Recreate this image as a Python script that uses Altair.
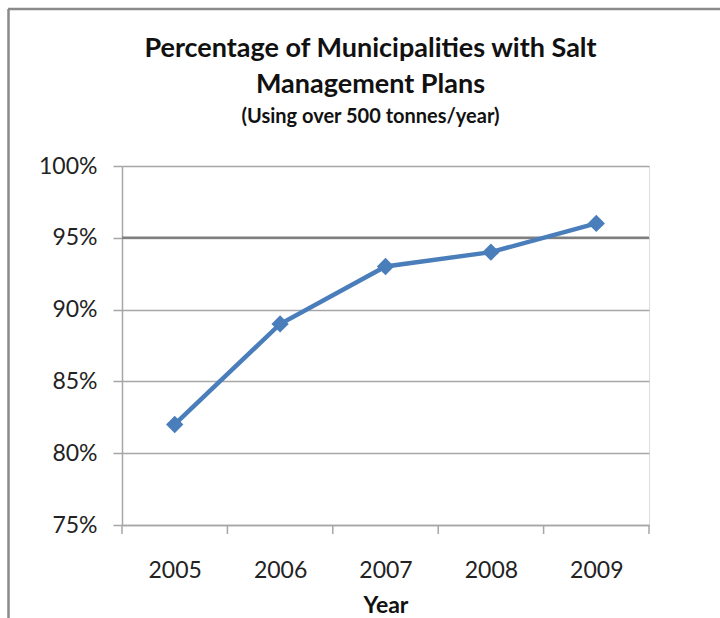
import altair as alt
import pandas as pd

# Share of municipalities (using over 500 tonnes of salt per year) with a plan
years = [2005, 2006, 2007, 2008, 2009]
share = [0.82, 0.89, 0.93, 0.94, 0.96]

# Category boundaries for the x-axis tick marks
tick_edges = [2004.5, 2005.5, 2006.5, 2007.5, 2008.5, 2009.5]

df = pd.DataFrame({"Year": years, "Share": share})
edges = pd.DataFrame({"edge": tick_edges})
ref = pd.DataFrame({"level": [0.95]})

W, H = 527, 359
FONT = "Lato"
BLUE = "#4a7ebb"
GRID = "#a6a6a6"

x_scale = alt.Scale(domain=[2004.5, 2009.5], nice=False, zero=False)
y_scale = alt.Scale(domain=[0.75, 1.0], nice=False, zero=False)

x_axis = alt.Axis(
    title="Year", values=years, format="d", ticks=False, grid=False,
    domainColor=GRID, domainWidth=1.5, labelFont=FONT, labelFontSize=23,
    labelColor="#222", labelPadding=34, titleFont=FONT, titleFontSize=23,
    titleFontWeight="bold", titleColor="#111", titlePadding=12,
)
y_axis = alt.Axis(
    title=None, values=[0.75, 0.80, 0.85, 0.90, 0.95, 1.0], format=".0%",
    tickSize=9, tickColor=GRID, tickWidth=1.5, domainColor=GRID, domainWidth=1.5,
    gridColor=GRID, gridWidth=1.5, labelFont=FONT, labelFontSize=23,
    labelColor="#222", labelPadding=16,
)

base = alt.Chart(df)

line = base.mark_line(color=BLUE, strokeWidth=4.5).encode(
    x=alt.X("Year:Q", scale=x_scale, axis=x_axis),
    y=alt.Y("Share:Q", scale=y_scale, axis=y_axis),
)
points = base.mark_point(shape="diamond", filled=True, size=300, color=BLUE, opacity=1).encode(
    x=alt.X("Year:Q", scale=x_scale),
    y=alt.Y("Share:Q", scale=y_scale),
)

# Heavier reference line at 95%
ref_line = alt.Chart(ref).mark_rule(color="#7f7f7f", strokeWidth=2.5).encode(
    y=alt.Y("level:Q", scale=y_scale),
)

# Tick marks between year categories
ticks = alt.Chart(edges).mark_rule(color=GRID, strokeWidth=1.5).encode(
    x=alt.X("edge:Q", scale=x_scale),
    y=alt.value(H),
    y2=alt.value(H + 9),
)

# Chart-area frame (top and left edges)
frame_top = alt.Chart(ref).mark_rule(color="#8a8a8a", strokeWidth=2.5).encode(
    x=alt.value(-114), x2=alt.value(620), y=alt.value(-157),
)
frame_left = alt.Chart(ref).mark_rule(color="#8a8a8a", strokeWidth=2.5).encode(
    x=alt.value(-113.5), y=alt.value(-157), y2=alt.value(460),
)

chart = alt.layer(ref_line, ticks, line, points, frame_top, frame_left).properties(
    width=W,
    height=H,
    autosize=alt.AutoSizeParams(type="none"),
    padding={"left": 122, "top": 166, "right": 71, "bottom": 93},
    title=alt.TitleParams(
        text=["Percentage of Municipalities with Salt", "Management Plans"],
        subtitle="(Using over 500 tonnes/year)",
        anchor="middle", frame="group", dx=-15, offset=-120,
        font=FONT, fontSize=27, fontWeight="bold", color="#111", lineHeight=36,
        subtitleFont=FONT, subtitleFontSize=20, subtitleFontWeight="bold",
        subtitleColor="#111", subtitlePadding=8,
    ),
).configure_view(stroke=None).configure(background="white")

chart.save("out.html", embed_options={"renderer": "svg", "actions": False})
